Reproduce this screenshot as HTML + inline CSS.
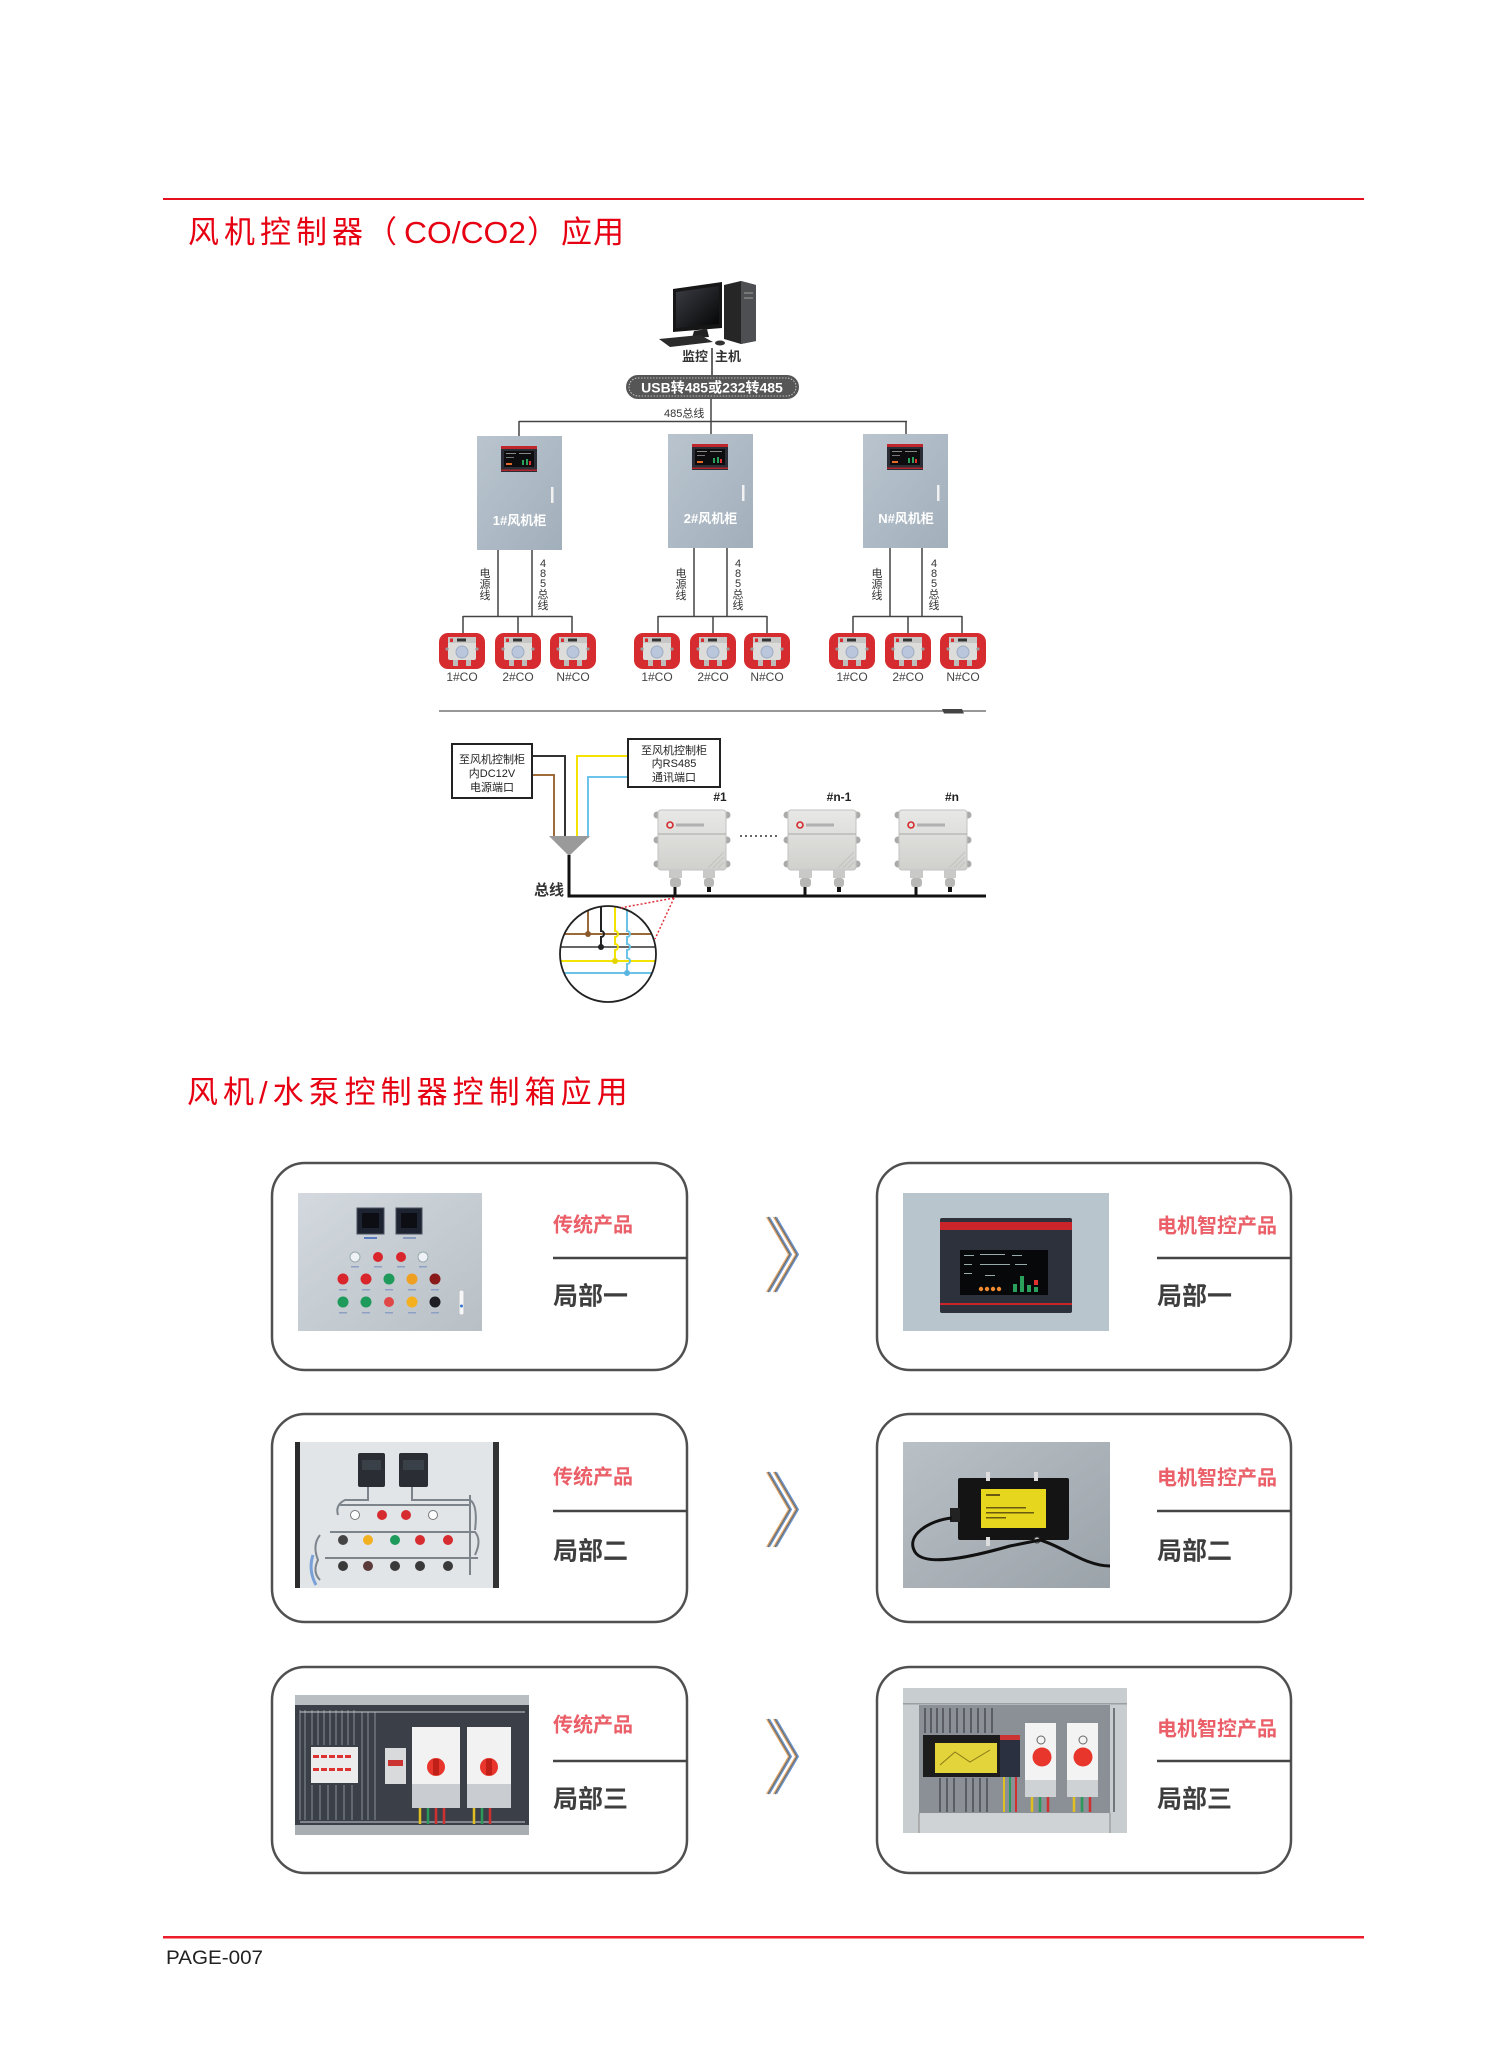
<!DOCTYPE html>
<html><head><meta charset="utf-8">
<style>
html,body{margin:0;padding:0;background:#fff;width:1505px;height:2056px;overflow:hidden;}
svg{display:block;}
text{font-family:"Liberation Sans","Noto Sans CJK SC",sans-serif;}
</style></head><body>
<svg width="1505" height="2056" viewBox="0 0 1505 2056" xmlns="http://www.w3.org/2000/svg">
<defs>
 <linearGradient id="cab" x1="0" y1="0" x2="1" y2="1">
  <stop offset="0" stop-color="#b9c4ce"/><stop offset="1" stop-color="#a2afbb"/>
 </linearGradient>
 <linearGradient id="dev" x1="0" y1="0" x2="0" y2="1">
  <stop offset="0" stop-color="#e8e8e6"/><stop offset="1" stop-color="#d0d0cd"/>
 </linearGradient>
 <linearGradient id="steel" x1="0" y1="0" x2="1" y2="1">
  <stop offset="0" stop-color="#d3d9de"/><stop offset="1" stop-color="#b8c0c6"/>
 </linearGradient>
 <linearGradient id="gray2" x1="0" y1="0" x2="1" y2="1">
  <stop offset="0" stop-color="#b9c0c6"/><stop offset="1" stop-color="#9ba3aa"/>
 </linearGradient>
 <linearGradient id="scr" x1="0" y1="0" x2="1" y2="1">
  <stop offset="0" stop-color="#3a3d44"/><stop offset="1" stop-color="#050505"/>
 </linearGradient>
 <clipPath id="circ"><circle cx="608" cy="954" r="48"/></clipPath>

 <g id="sens">
  <rect x="-23" y="633" width="46" height="36" rx="9" fill="#d62b2f"/>
  <rect x="-14" y="637" width="28" height="23" rx="2" fill="#dcdcda"/>
  <rect x="-14" y="637" width="28" height="6" fill="#c6c6c4"/>
  <rect x="-5" y="638.5" width="9" height="3" fill="#333"/>
  <rect x="-12" y="638.5" width="3" height="3.5" fill="#d62b2f"/>
  <circle cx="-15" cy="649" r="1.6" fill="#9a9a98"/>
  <circle cx="15" cy="649" r="1.6" fill="#9a9a98"/>
  <circle cx="0" cy="652" r="6" fill="#b9c6dc" stroke="#9fadc4"/>
  <rect x="-9" y="660" width="5" height="6" fill="#bdbdbb"/>
  <rect x="4" y="660" width="5" height="6" fill="#bdbdbb"/>
 </g>

 <g id="cabinet">
  <rect x="0" y="0" width="85" height="114" fill="url(#cab)"/>
  <rect x="24" y="10" width="36" height="26" fill="#2b2e36"/>
  <rect x="24" y="10" width="36" height="3" fill="#c0272d"/>
  <rect x="27" y="15" width="30" height="16" fill="#0d0d10"/>
  <rect x="29" y="17" width="10" height="1" fill="#888"/>
  <rect x="42" y="17" width="12" height="1" fill="#888"/>
  <rect x="29" y="21" width="8" height="1" fill="#777"/>
  <rect x="29" y="27" width="6" height="2" fill="#e56a2a"/>
  <rect x="45" y="24" width="2" height="5" fill="#2aa05a"/>
  <rect x="49" y="23" width="2" height="6" fill="#2aa05a"/>
  <rect x="52" y="25" width="2" height="4" fill="#e03030"/>
  <rect x="24" y="33.5" width="36" height="1.5" fill="#b0262b"/>
  <rect x="74" y="51" width="2.5" height="16" fill="#f1f1f1"/>
 </g>

 <g id="dv">
  <circle cx="3" cy="815" r="3.5" fill="#aaaaa8"/><circle cx="73" cy="815" r="3.5" fill="#aaaaa8"/>
  <circle cx="3" cy="840" r="3.5" fill="#aaaaa8"/><circle cx="73" cy="840" r="3.5" fill="#aaaaa8"/>
  <circle cx="3" cy="864" r="3.5" fill="#aaaaa8"/><circle cx="73" cy="864" r="3.5" fill="#aaaaa8"/>
  <rect x="4" y="810" width="68" height="60" rx="3" fill="url(#dev)" stroke="#c2c2c0"/>
  <line x1="4" y1="834" x2="72" y2="834" stroke="#b3b3b1" stroke-width="1.2"/>
  <circle cx="16" cy="825" r="3" fill="none" stroke="#d42a2e" stroke-width="1.6"/>
  <rect x="22" y="823.5" width="28" height="3" fill="#b0b0b0"/>
  <path d="M54,868 L70,852 M59,868 L70,857 M64,868 L70,862" stroke="#c4c4c2" stroke-width="1.2"/>
  <rect x="15" y="870" width="13" height="8" fill="#c9c9c7"/>
  <rect x="16" y="878" width="11" height="9" rx="3" fill="#b7b7b5"/>
  <rect x="49" y="870" width="12" height="8" fill="#c9c9c7"/>
  <rect x="50" y="878" width="10" height="9" rx="3" fill="#b7b7b5"/>
  <rect x="53" y="887" width="4" height="5" fill="#111"/>
  <line x1="21" y1="887" x2="21" y2="897" stroke="#111" stroke-width="3"/>
 </g>

 <g id="chev" fill="none" stroke-linejoin="miter">
  <polyline points="766.5,0 788.5,37.5 766.5,75" stroke="#e9a25a" stroke-width="1"/>
  <polyline points="773.5,0 795.5,37.5 773.5,75" stroke="#e9a25a" stroke-width="1"/>
  <polyline points="769.5,0 791.5,37.5 769.5,75" stroke="#5b8fd6" stroke-width="1"/>
  <polyline points="776.5,0 798.5,37.5 776.5,75" stroke="#5b8fd6" stroke-width="1"/>
  <polyline points="768,0 790,37.5 768,75" stroke="#6f6f6f" stroke-width="1.5"/>
  <polyline points="775,0 797,37.5 775,75" stroke="#6f6f6f" stroke-width="1.5"/>
 </g>
</defs>

<!-- top rule & title -->
<rect x="163" y="198" width="1201" height="2" fill="#e60f1e"/>
<text x="188" y="243" font-size="31" fill="#e60012" letter-spacing="5" font-family="'Liberation Sans','Noto Sans CJK SC',sans-serif">风机控制器</text>
<text x="366" y="243" font-size="31" fill="#e60012" font-family="'Noto Sans CJK SC',sans-serif">（</text>
<text x="404" y="243" font-size="31" fill="#e60012" textLength="122" lengthAdjust="spacingAndGlyphs">CO/CO2</text>
<text x="527" y="243" font-size="31" fill="#e60012" font-family="'Noto Sans CJK SC',sans-serif">）</text>
<text x="561" y="243" font-size="31" fill="#e60012" letter-spacing="1">应用</text>

<!-- computer -->
<polygon points="673,289 722,282 722,328 673,332" fill="#161616"/>
<polygon points="676,292 719,286 719,324 676,328" fill="url(#scr)"/>
<polygon points="694,331 707,329 709,337 692,338" fill="#222"/>
<polygon points="724,285 741,281 756,285 756,341 741,344 724,339" fill="#262626"/>
<polygon points="741,281 756,285 756,341 741,344" fill="#4d4f52"/>
<rect x="744" y="292" width="9" height="2" fill="#777"/>
<rect x="744" y="297" width="9" height="2" fill="#777"/>
<polygon points="659,339 700,335 713,342 670,347" fill="#2b2b2b"/>
<ellipse cx="720" cy="343" rx="5" ry="2.5" fill="#333"/>
<text x="695" y="361" font-size="13" font-weight="bold" fill="#333" text-anchor="middle">监控</text>
<text x="728" y="361" font-size="13" font-weight="bold" fill="#333" text-anchor="middle">主机</text>
<line x1="712" y1="348" x2="712" y2="376" stroke="#333" stroke-width="1.5"/>

<!-- pill -->
<rect x="626" y="375" width="173" height="24" rx="12" fill="#565656"/>
<rect x="629" y="378" width="167" height="18" rx="9" fill="none" stroke="#ddd" stroke-width="0.8" stroke-dasharray="1.5,1.5"/>
<text x="712" y="392.5" font-size="14" font-weight="bold" fill="#fff" text-anchor="middle">USB转485或232转485</text>
<line x1="711" y1="399" x2="711" y2="422" stroke="#444" stroke-width="1.5"/>
<text x="664" y="417" font-size="11" fill="#333">485总线</text>
<line x1="519" y1="421.5" x2="907" y2="421.5" stroke="#444" stroke-width="1.6"/>
<line x1="519" y1="421" x2="519" y2="436" stroke="#444" stroke-width="1.5"/>
<line x1="711" y1="421" x2="711" y2="434" stroke="#444" stroke-width="1.5"/>
<line x1="906" y1="421" x2="906" y2="434" stroke="#444" stroke-width="1.5"/>

<!-- cabinets -->
<use href="#cabinet" x="477" y="436"/>
<use href="#cabinet" x="668" y="434"/>
<use href="#cabinet" x="863" y="434"/>
<text x="519.5" y="525" font-size="13" font-weight="bold" fill="#fff" text-anchor="middle">1#风机柜</text>
<text x="710.5" y="523" font-size="13" font-weight="bold" fill="#fff" text-anchor="middle">2#风机柜</text>
<text x="906" y="523" font-size="13" font-weight="bold" fill="#fff" text-anchor="middle">N#风机柜</text>

<!-- sub-wiring -->
<g stroke="#444" stroke-width="1.5" fill="none">
 <path d="M498,550 V616 M532,550 V616 M463,616.5 H572 M463,616 V634 M518,616 V634 M572,616 V634"/>
 <path d="M694,548 V616 M727,548 V616 M658,616.5 H767 M658,616 V634 M713,616 V634 M767,616 V634"/>
 <path d="M890,548 V616 M922,548 V616 M853,616.5 H962 M853,616 V634 M908,616 V634 M962,616 V634"/>
</g>
<g font-size="11" fill="#333" text-anchor="middle">
 <text x="485" y="577">电</text><text x="485" y="588">源</text><text x="485" y="599">线</text>
 <text x="543" y="567">4</text><text x="543" y="577">8</text><text x="543" y="587">5</text><text x="543" y="598">总</text><text x="543" y="609">线</text>
 <text x="681" y="577">电</text><text x="681" y="588">源</text><text x="681" y="599">线</text>
 <text x="738" y="567">4</text><text x="738" y="577">8</text><text x="738" y="587">5</text><text x="738" y="598">总</text><text x="738" y="609">线</text>
 <text x="877" y="577">电</text><text x="877" y="588">源</text><text x="877" y="599">线</text>
 <text x="934" y="567">4</text><text x="934" y="577">8</text><text x="934" y="587">5</text><text x="934" y="598">总</text><text x="934" y="609">线</text>
</g>

<!-- sensors -->
<use href="#sens" x="462"/><use href="#sens" x="518"/><use href="#sens" x="573"/>
<use href="#sens" x="657"/><use href="#sens" x="713"/><use href="#sens" x="767"/>
<use href="#sens" x="852"/><use href="#sens" x="908"/><use href="#sens" x="963"/>
<g font-size="12" fill="#444" text-anchor="middle">
 <text x="462" y="681">1#CO</text><text x="518" y="681">2#CO</text><text x="573" y="681">N#CO</text>
 <text x="657" y="681">1#CO</text><text x="713" y="681">2#CO</text><text x="767" y="681">N#CO</text>
 <text x="852" y="681">1#CO</text><text x="908" y="681">2#CO</text><text x="963" y="681">N#CO</text>
</g>

<!-- divider -->
<line x1="439" y1="711" x2="986" y2="711" stroke="#777" stroke-width="1.5"/>
<polygon points="942,709 962,709 964,713.5 944,713.5" fill="#444"/>

<!-- bottom diagram boxes -->
<rect x="452" y="744" width="80" height="54" fill="#fff" stroke="#222" stroke-width="2"/>
<g font-size="11" fill="#222" text-anchor="middle">
 <text x="492" y="763">至风机控制柜</text>
 <text x="492" y="777">内DC12V</text>
 <text x="492" y="791">电源端口</text>
</g>
<rect x="628" y="739" width="92" height="48" fill="#fff" stroke="#222" stroke-width="2"/>
<g font-size="11" fill="#222" text-anchor="middle">
 <text x="674" y="754">至风机控制柜</text>
 <text x="674" y="767">内RS485</text>
 <text x="674" y="781">通讯端口</text>
</g>
<g fill="none" stroke-width="2">
 <path d="M533,756 H565 V838" stroke="#333"/>
 <path d="M533,775 H554 V838" stroke="#9e6c3a"/>
 <path d="M627,756 H577 V838" stroke="#f4e200"/>
 <path d="M627,777 H588 V838" stroke="#6cc4ea"/>
</g>
<polygon points="549,836 590,836 569,856" fill="#9a9a9a"/>
<path d="M569,855 V896 H986" fill="none" stroke="#111" stroke-width="3"/>
<text x="549" y="895" font-size="15" font-weight="bold" fill="#333" text-anchor="middle">总线</text>

<use href="#dv" x="654"/>
<use href="#dv" x="784"/>
<use href="#dv" x="895"/>
<g font-size="12" font-weight="bold" fill="#222" text-anchor="middle">
 <text x="720" y="801">#1</text>
 <text x="839" y="801">#n-1</text>
 <text x="952" y="801">#n</text>
</g>
<line x1="740" y1="836" x2="777" y2="836" stroke="#333" stroke-width="1.5" stroke-dasharray="2,3"/>

<!-- zoom circle -->
<circle cx="608" cy="954" r="48" fill="#fff"/>
<g clip-path="url(#circ)" fill="none" stroke-width="2">
 <line x1="556" y1="934" x2="660" y2="934" stroke="#9b6a3a"/>
 <line x1="556" y1="947" x2="660" y2="947" stroke="#666"/>
 <line x1="556" y1="961" x2="660" y2="961" stroke="#f2e400"/>
 <line x1="556" y1="973" x2="660" y2="973" stroke="#6cc3e8"/>
 <path d="M588,900 V934" stroke="#9b6a3a"/>
 <path d="M601,900 V931 a3,3 0 0 1 0,6 V947" stroke="#222"/>
 <path d="M615,900 V931 a3,3 0 0 1 0,6 V944 a3,3 0 0 1 0,6 V961" stroke="#f2e400"/>
 <path d="M627,900 V931 a3,3 0 0 1 0,6 V944 a3,3 0 0 1 0,6 V958 a3,3 0 0 1 0,6 V973" stroke="#6cc3e8"/>
</g>
<circle cx="588" cy="934" r="3" fill="#8a5a2a"/>
<circle cx="601" cy="947" r="3" fill="#222"/>
<circle cx="615" cy="961" r="3" fill="#e6d400"/>
<circle cx="627" cy="973" r="3" fill="#5ab5e0"/>
<circle cx="608" cy="954" r="48" fill="none" stroke="#222" stroke-width="1.8"/>
<g stroke="#e0303a" stroke-width="1.5" stroke-dasharray="2,2">
 <line x1="674" y1="898" x2="620" y2="908"/>
 <line x1="674" y1="898" x2="655" y2="939"/>
</g>

<!-- section 2 title -->
<text x="187" y="1103" font-size="31" fill="#e60012" letter-spacing="5">风机/水泵控制器控制箱应用</text>

<!-- cards -->
<g fill="#fff" stroke="#505050" stroke-width="2.5">
 <rect x="272" y="1163" width="415" height="207" rx="33"/>
 <rect x="877" y="1163" width="414" height="207" rx="33"/>
 <rect x="272" y="1414" width="415" height="208" rx="33"/>
 <rect x="877" y="1414" width="414" height="208" rx="33"/>
 <rect x="272" y="1667" width="415" height="206" rx="33"/>
 <rect x="877" y="1667" width="414" height="206" rx="33"/>
</g>
<g stroke="#454545" stroke-width="2.5">
 <line x1="553" y1="1258" x2="687" y2="1258"/>
 <line x1="1157" y1="1258" x2="1291" y2="1258"/>
 <line x1="553" y1="1511" x2="687" y2="1511"/>
 <line x1="1157" y1="1511" x2="1291" y2="1511"/>
 <line x1="553" y1="1761" x2="687" y2="1761"/>
 <line x1="1157" y1="1761" x2="1291" y2="1761"/>
</g>
<g font-size="20" font-weight="bold" fill="#ea5f68">
 <text x="553" y="1231.5">传统产品</text>
 <text x="1157" y="1232.5">电机智控产品</text>
 <text x="553" y="1483.5">传统产品</text>
 <text x="1157" y="1484.5">电机智控产品</text>
 <text x="553" y="1731.5">传统产品</text>
 <text x="1157" y="1735.5">电机智控产品</text>
</g>
<g font-size="25" font-weight="bold" fill="#3e3e3e">
 <text x="553" y="1304.5">局部一</text>
 <text x="1157" y="1304.5">局部一</text>
 <text x="553" y="1559.5">局部二</text>
 <text x="1157" y="1559.5">局部二</text>
 <text x="553" y="1807.5">局部三</text>
 <text x="1157" y="1807.5">局部三</text>
</g>
<use href="#chev" y="1217"/>
<use href="#chev" y="1472"/>
<use href="#chev" y="1719"/>

<!-- row1 left photo -->
<rect x="298" y="1193" width="184" height="138" fill="url(#steel)"/>
<rect x="357" y="1208" width="27" height="26" fill="#1d2331" stroke="#4a5060"/>
<rect x="362" y="1213" width="17" height="15" fill="#0c0e14"/>
<rect x="396" y="1208" width="26" height="26" fill="#1d2331" stroke="#4a5060"/>
<rect x="401" y="1213" width="16" height="15" fill="#0c0e14"/>
<rect x="364" y="1237" width="13" height="2" fill="#5a7cc0"/>
<rect x="403" y="1237" width="13" height="2" fill="#8a9cc0"/>
<circle cx="355" cy="1257" r="5" fill="#eef2f6" stroke="#9aa"/>
<circle cx="378" cy="1257" r="5" fill="#d9262c"/>
<circle cx="401" cy="1257" r="5" fill="#d9262c"/>
<circle cx="423" cy="1257" r="5" fill="#eef2f6" stroke="#9aa"/>
<circle cx="343" cy="1279" r="5.5" fill="#d9262c"/>
<circle cx="366" cy="1279" r="5.5" fill="#d9262c"/>
<circle cx="389" cy="1279" r="5.5" fill="#1e9a5a"/>
<circle cx="412" cy="1279" r="5.5" fill="#f0a020"/>
<circle cx="435" cy="1279" r="5.5" fill="#8a1a1a"/>
<circle cx="343" cy="1302" r="5.5" fill="#1e9a5a"/>
<circle cx="366" cy="1302" r="5.5" fill="#1e9a5a"/>
<circle cx="389" cy="1302" r="5" fill="#e04848"/>
<circle cx="412" cy="1302" r="5.5" fill="#f5b020"/>
<circle cx="435" cy="1302" r="5.5" fill="#1e1e24"/>
<g fill="#8da0c4">
 <rect x="351" y="1266" width="8" height="1.5"/><rect x="374" y="1266" width="8" height="1.5"/><rect x="397" y="1266" width="8" height="1.5"/><rect x="419" y="1266" width="8" height="1.5"/>
 <rect x="339" y="1289" width="8" height="1.5"/><rect x="362" y="1289" width="8" height="1.5"/><rect x="385" y="1289" width="8" height="1.5"/><rect x="408" y="1289" width="8" height="1.5"/><rect x="431" y="1289" width="8" height="1.5"/>
 <rect x="339" y="1312" width="8" height="1.5"/><rect x="362" y="1312" width="8" height="1.5"/><rect x="385" y="1312" width="8" height="1.5"/><rect x="408" y="1312" width="8" height="1.5"/><rect x="431" y="1312" width="8" height="1.5"/>
</g>
<rect x="459" y="1290" width="5" height="25" rx="2" fill="#f6f6f6" stroke="#b8bec4"/>
<circle cx="461.5" cy="1306" r="1.5" fill="#3a7ad0"/>

<!-- row1 right photo -->
<rect x="903" y="1193" width="206" height="138" fill="#b9c5cd"/>
<rect x="940" y="1218" width="132" height="95" rx="2" fill="#2d313b"/>
<rect x="940" y="1222" width="132" height="8" fill="#c9252b"/>
<rect x="940" y="1303" width="132" height="2" fill="#c9252b"/>
<rect x="960" y="1250" width="88" height="45" fill="#07080a"/>
<g fill="#9aa">
 <rect x="964" y="1255" width="10" height="1"/><rect x="980" y="1254" width="25" height="1"/><rect x="1012" y="1255" width="10" height="1"/>
 <rect x="964" y="1264" width="8" height="1"/><rect x="980" y="1264" width="30" height="1"/><rect x="1015" y="1264" width="12" height="1"/>
 <rect x="964" y="1273" width="8" height="1"/><rect x="985" y="1275" width="10" height="1"/>
</g>
<g fill="#f08a30">
 <circle cx="981" cy="1289" r="2.2"/><circle cx="987" cy="1289" r="2.2"/><circle cx="993" cy="1289" r="2.2"/><circle cx="999" cy="1289" r="2.2"/>
</g>
<rect x="1013" y="1284" width="4" height="8" fill="#2aa05a"/>
<rect x="1020" y="1276" width="4" height="16" fill="#2aa05a"/>
<rect x="1027" y="1285" width="4" height="7" fill="#2aa05a"/>
<rect x="1034" y="1280" width="4" height="5" fill="#e03030"/>
<rect x="1034" y="1287" width="4" height="5" fill="#2aa05a"/>

<!-- row2 left photo -->
<rect x="295" y="1442" width="204" height="146" fill="#e1e5e8"/>
<rect x="295" y="1442" width="5" height="146" fill="#2b2b2b"/>
<rect x="493" y="1442" width="6" height="146" fill="#333"/>
<rect x="358" y="1453" width="27" height="34" rx="2" fill="#2a2d33"/>
<rect x="399" y="1453" width="29" height="34" rx="2" fill="#2a2d33"/>
<rect x="362" y="1460" width="19" height="10" fill="#3a4048"/>
<rect x="403" y="1460" width="21" height="10" fill="#3a4048"/>
<g fill="none" stroke="#7d848b" stroke-width="2">
 <path d="M368,1487 V1500 H345 Q335,1505 338,1515 M412,1487 V1500 H470 Q478,1505 475,1530"/>
 <path d="M340,1505 H470 M330,1532 H475 Q482,1540 475,1555 M325,1558 H478 M320,1535 Q312,1545 318,1560 Q312,1572 320,1580"/>
 <path d="M470,1495 V1575"/>
</g>
<circle cx="355" cy="1515" r="4.5" fill="#fff" stroke="#777"/>
<circle cx="382" cy="1515" r="5" fill="#d62b2f"/>
<circle cx="406" cy="1515" r="5" fill="#d62b2f"/>
<circle cx="433" cy="1515" r="4.5" fill="#fff" stroke="#777"/>
<circle cx="343" cy="1540" r="5" fill="#444"/>
<circle cx="368" cy="1540" r="5" fill="#f0b020"/>
<circle cx="395" cy="1540" r="5" fill="#1e9a5a"/>
<circle cx="420" cy="1540" r="5" fill="#d62b2f"/>
<circle cx="448" cy="1540" r="5" fill="#d62b2f"/>
<circle cx="343" cy="1566" r="5" fill="#3a3a3a"/>
<circle cx="368" cy="1566" r="5" fill="#5a3a3a"/>
<circle cx="395" cy="1566" r="5" fill="#3a3a3a"/>
<circle cx="420" cy="1566" r="5" fill="#3a3a3a"/>
<circle cx="448" cy="1566" r="5" fill="#3a3a3a"/>
<path d="M313,1555 Q308,1570 316,1585" fill="none" stroke="#7aa0d8" stroke-width="3"/>

<!-- row2 right photo -->
<rect x="903" y="1442" width="207" height="146" fill="url(#gray2)"/>
<rect x="958" y="1478" width="111" height="62" rx="2" fill="#141414"/>
<rect x="981" y="1489" width="65" height="39" fill="#e6d61e"/>
<g fill="#6a5a10">
 <rect x="986" y="1494" width="14" height="2"/><rect x="986" y="1507" width="40" height="1.5"/><rect x="986" y="1512" width="48" height="1.5"/><rect x="986" y="1517" width="20" height="1.5"/>
</g>
<rect x="986" y="1472" width="4" height="9" fill="#ddd"/>
<rect x="1034" y="1472" width="4" height="9" fill="#ddd"/>
<rect x="986" y="1537" width="4" height="9" fill="#ddd"/>
<circle cx="1037" cy="1540" r="3" fill="#ccc" stroke="#333"/>
<rect x="950" y="1508" width="10" height="14" fill="#222"/>
<path d="M952,1518 C930,1520 905,1535 915,1552 C925,1568 975,1556 1010,1546 L1040,1540" fill="none" stroke="#111" stroke-width="3"/>
<path d="M1040,1540 C1062,1546 1085,1566 1110,1566" fill="none" stroke="#111" stroke-width="3"/>

<!-- row3 left photo -->
<rect x="295" y="1695" width="234" height="140" fill="#3b4048"/>
<rect x="295" y="1695" width="234" height="10" fill="#b9bec2"/>
<rect x="295" y="1825" width="234" height="10" fill="#a9aeb2"/>
<g stroke="#8a9098" stroke-width="1">
 <path d="M300,1710 V1820 M305,1710 V1820 M312,1710 V1745 M318,1710 V1745 M324,1710 V1745 M330,1710 V1745 M336,1710 V1745 M342,1710 V1745 M348,1710 V1745 M354,1710 V1745 M362,1712 V1820 M368,1712 V1820 M375,1712 V1820 M312,1785 V1820 M320,1785 V1820 M328,1785 V1820 M336,1785 V1820 M344,1785 V1820 M352,1785 V1820"/>
 <path d="M300,1712 H525 M300,1822 H525" stroke="#c8ccd0"/>
</g>
<rect x="311" y="1747" width="47" height="36" fill="#ececec"/>
<g fill="#d33">
 <rect x="313" y="1755" width="6" height="3"/><rect x="321" y="1755" width="6" height="3"/><rect x="329" y="1755" width="6" height="3"/><rect x="337" y="1755" width="6" height="3"/><rect x="345" y="1755" width="6" height="3"/>
 <rect x="313" y="1768" width="6" height="3"/><rect x="321" y="1768" width="6" height="3"/><rect x="329" y="1768" width="6" height="3"/><rect x="337" y="1768" width="6" height="3"/><rect x="345" y="1768" width="6" height="3"/>
</g>
<rect x="385" y="1748" width="21" height="36" fill="#d8dadc"/>
<rect x="388" y="1760" width="15" height="6" fill="#c33"/>
<rect x="412" y="1727" width="48" height="81" fill="#f2f2f2"/>
<rect x="467" y="1727" width="44" height="81" fill="#f2f2f2"/>
<rect x="412" y="1784" width="48" height="24" fill="#c9ccd0"/>
<rect x="467" y="1784" width="44" height="24" fill="#c9ccd0"/>
<circle cx="436" cy="1767" r="9" fill="#e8362d"/>
<circle cx="489" cy="1767" r="9" fill="#e8362d"/>
<rect x="433" y="1759" width="6" height="16" fill="#c02018"/>
<rect x="486" y="1759" width="6" height="16" fill="#c02018"/>
<g stroke-width="2.5">
 <line x1="420" y1="1808" x2="420" y2="1824" stroke="#e0c020"/><line x1="428" y1="1808" x2="428" y2="1824" stroke="#2a9a5a"/><line x1="436" y1="1808" x2="436" y2="1824" stroke="#d03030"/><line x1="444" y1="1808" x2="444" y2="1824" stroke="#d03030"/>
 <line x1="474" y1="1808" x2="474" y2="1824" stroke="#e0c020"/><line x1="482" y1="1808" x2="482" y2="1824" stroke="#2a9a5a"/><line x1="490" y1="1808" x2="490" y2="1824" stroke="#d03030"/>
</g>

<!-- row3 right photo -->
<rect x="903" y="1688" width="224" height="145" fill="#c8cdd0"/>
<rect x="903" y="1703" width="224" height="1.5" fill="#9aa0a4"/>
<rect x="919" y="1705" width="191" height="108" fill="#8b9096"/>
<g stroke="#3a3e44" stroke-width="1.2">
 <path d="M925,1708 V1733 M931,1708 V1733 M937,1708 V1733 M943,1708 V1733 M950,1708 V1733 M957,1708 V1733 M964,1708 V1733 M971,1708 V1733 M978,1708 V1733 M985,1708 V1733 M992,1708 V1733"/>
 <path d="M940,1778 V1812 M947,1778 V1812 M954,1778 V1812 M966,1778 V1812 M973,1778 V1812 M980,1778 V1812 M987,1778 V1812 M1114,1708 V1812"/>
</g>
<rect x="923" y="1735" width="77" height="42" fill="#1c1c1c"/>
<rect x="935" y="1743" width="62" height="30" fill="#e2d43a"/>
<path d="M940,1765 L955,1752 L970,1762 L990,1750" fill="none" stroke="#8a7a1a" stroke-width="1"/>
<rect x="1000" y="1737" width="20" height="40" fill="#2a3040"/>
<rect x="1000" y="1735" width="20" height="5" fill="#c33"/>
<line x1="1004" y1="1777" x2="1004" y2="1812" stroke="#e0c020" stroke-width="2"/>
<line x1="1010" y1="1777" x2="1010" y2="1812" stroke="#2a9a5a" stroke-width="2"/>
<line x1="1016" y1="1777" x2="1016" y2="1812" stroke="#d03030" stroke-width="2"/>
<rect x="1025" y="1723" width="31" height="74" fill="#f3f3f3"/>
<rect x="1067" y="1723" width="31" height="74" fill="#f3f3f3"/>
<rect x="1025" y="1780" width="31" height="17" fill="#cfd2d5"/>
<rect x="1067" y="1780" width="31" height="17" fill="#cfd2d5"/>
<circle cx="1041" cy="1740" r="4" fill="none" stroke="#666"/>
<circle cx="1083" cy="1740" r="4" fill="none" stroke="#666"/>
<circle cx="1042" cy="1757" r="9.5" fill="#e8362d"/>
<circle cx="1083" cy="1757" r="9.5" fill="#e8362d"/>
<g stroke-width="2.5">
 <line x1="1032" y1="1797" x2="1032" y2="1812" stroke="#e0c020"/><line x1="1040" y1="1797" x2="1040" y2="1812" stroke="#2a9a5a"/><line x1="1048" y1="1797" x2="1048" y2="1812" stroke="#d03030"/>
 <line x1="1074" y1="1797" x2="1074" y2="1812" stroke="#e0c020"/><line x1="1082" y1="1797" x2="1082" y2="1812" stroke="#2a9a5a"/><line x1="1090" y1="1797" x2="1090" y2="1812" stroke="#d03030"/>
</g>
<rect x="919" y="1813" width="191" height="20" fill="#cfd3d6"/>
<line x1="919" y1="1813" x2="919" y2="1833" stroke="#888"/>
<line x1="1110" y1="1813" x2="1110" y2="1833" stroke="#888"/>

<!-- footer -->
<rect x="163" y="1936" width="1201" height="2.5" fill="#ec1c2a"/>
<text x="166" y="1964" font-size="19" fill="#222" textLength="97" lengthAdjust="spacingAndGlyphs">PAGE-007</text>
</svg>
</body></html>
